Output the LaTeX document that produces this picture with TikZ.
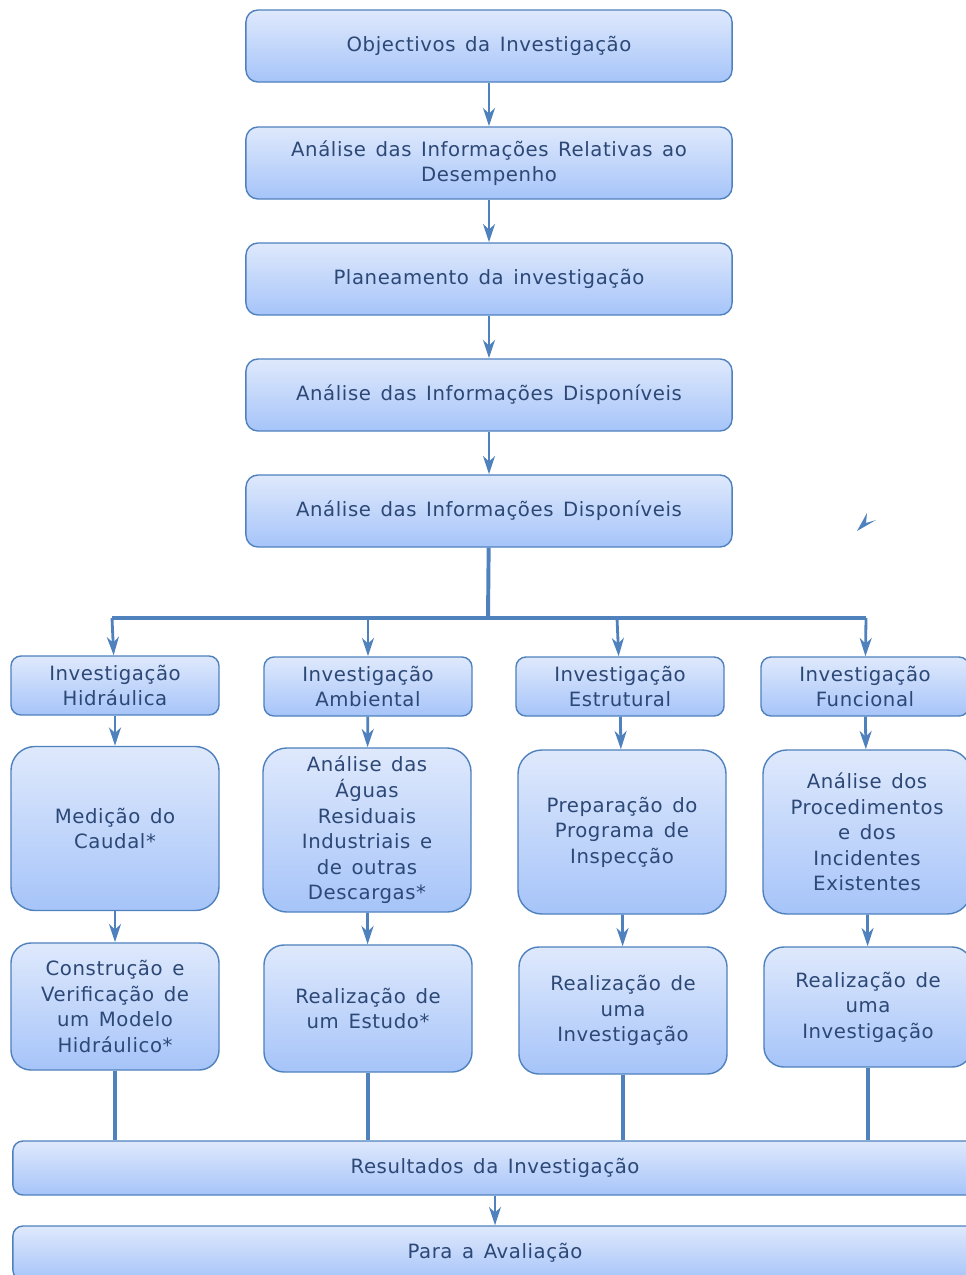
\documentclass[tikz,border=0pt]{standalone}
\usepackage{fontspec}
\setmainfont[LetterSpace=3,WordSpace=1.4]{DejaVu Sans}
\usetikzlibrary{arrows.meta,positioning}
\definecolor{boxline}{RGB}{79,129,189}
\definecolor{boxtop}{RGB}{223,233,252}
\definecolor{boxbot}{RGB}{166,196,249}
\definecolor{boxtext}{RGB}{44,72,118}

\tikzset{
  box/.style={draw=boxline, line width=1pt, top color=boxtop, bottom color=boxbot,
    rounded corners=0.3cm, align=center, text=boxtext, inner sep=0pt,
    font=\fontsize{14}{18.2}\selectfont},
  mainbox/.style={box, minimum width=12.15cm, minimum height=1.8cm},
  headbox/.style={box, minimum width=5.2cm, minimum height=1.475cm, rounded corners=0.25cm},
  stepbox/.style={box, minimum width=5.2cm, minimum height=4.1cm, rounded corners=0.6cm},
  endbox/.style={box, minimum width=5.2cm, minimum height=3.175cm, rounded corners=0.5cm},
  widebox/.style={box, minimum width=24.1cm, minimum height=1.35cm, rounded corners=0.25cm},
  arr/.style={draw=boxline, line width=2pt, -{Stealth[length=13pt,width=8.5pt,inset=4pt]}},
  bar/.style={draw=boxline, line width=2.2pt},
  bus/.style={draw=boxline, line width=2.8pt}
}

\begin{document}
\begin{tikzpicture}[x=0.025cm,y=-0.025cm]
\clip (0,0) rectangle (966,1275);
\useasboundingbox (0,0) rectangle (966,1275);

% Main chain
\node[mainbox] (obj) at (489,46) {Objectivos da Investigação};
\node[mainbox] (rel) at (489,163) {Análise das Informações Relativas ao\\Desempenho};
\node[mainbox] (plan) at (489,279) {Planeamento da investigação};
\node[mainbox] (disp) at (489,395) {Análise das Informações Disponíveis};
\node[mainbox] (dispb) at (489,511) {Análise das Informações Disponíveis};

\draw[arr] (obj) -- (rel);
\draw[arr] (rel) -- (plan);
\draw[arr] (plan) -- (disp);
\draw[arr] (disp) -- (dispb);

% Column heads
\node[headbox] (hid) at (115,685.5) {Investigação\\Hidráulica};
\node[headbox] (amb) at (368,686.5) {Investigação\\Ambiental};
\node[headbox] (est) at (620,686.5) {Investigação\\Estrutural};
\node[headbox] (fun) at (865,686.5) {Investigação\\Funcional};

% Split
\coordinate (split) at (488,618);
\draw[bus] (dispb) -- (split);
\draw[bar] (112,618) -- (866,618);
\draw[arr] (112,618) -- (hid);
\draw[arr] (368,618) -- (amb);
\draw[arr] (617,618) -- (est);
\draw[arr] (866,618) -- (fun);

% Second row
\node[stepbox] (cau) at (115,828.5) {Medição do\\Caudal*};
\node[stepbox] (agu) at (367,830) {Análise das\\Águas\\Residuais\\Industriais e\\de outras\\Descargas*};
\node[stepbox] (prog) at (622,832) {Preparação do\\Programa de\\Inspecção};
\node[stepbox] (proc) at (867,832) {Análise dos\\Procedimentos\\e dos\\Incidentes\\Existentes};

\draw[arr] (hid) -- (cau);
\draw[arr] (amb) -- (agu);
\draw[arr] (est) -- (prog);
\draw[arr] (fun) -- (proc);

% Third row
\node[endbox] (mod) at (115,1006.5) {Construção e\\Verificação de\\um Modelo\\Hidráulico*};
\node[endbox] (estu) at (368,1008.5) {Realização de\\um Estudo*};
\node[endbox] (inv) at (623,1010.5) {Realização de\\uma\\Investigação};
\node[endbox, minimum height=3cm] (invb) at (868,1007) {Realização de\\uma\\Investigação};

\draw[arr] (cau) -- (mod);
\draw[arr] (agu) -- (estu);
\draw[arr] (prog) -- (inv);
\draw[arr] (proc) -- (invb);

% Results
\node[widebox] (res) at (495,1168) {Resultados da Investigação};
\node[widebox] (aval) at (495,1253) {Para a Avaliação};

\draw[bar] (mod) -- (mod |- res.north);
\draw[bar] (estu) -- (estu |- res.north);
\draw[bar] (inv) -- (inv |- res.north);
\draw[bar] (invb) -- (invb |- res.north);
\draw[arr] (res) -- (aval);

% Stray arrow tip
\fill[boxline] (857,531) -- (867,513) -- (866,523) -- (876,520) -- cycle;
\end{tikzpicture}
\end{document}
